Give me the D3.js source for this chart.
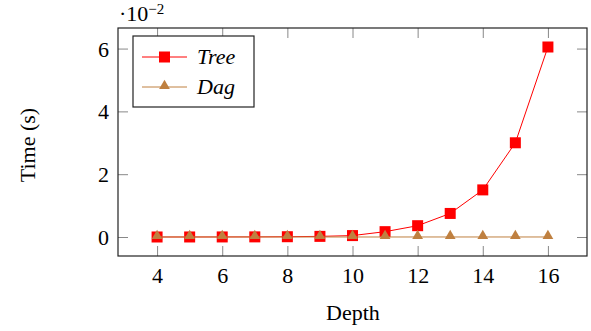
<!DOCTYPE html>
<html lang="en">
<head>
<meta charset="UTF-8">
<title>Time vs Depth</title>
<style>
  body { margin: 0; background: #fff; }
  text { font-family: "Liberation Serif", "DejaVu Serif", serif; fill: #000; }
</style>
</head>
<body>
<svg width="591" height="331"></svg>
<script src="https://d3js.org/d3.v7.min.js"></script>
<script>
// Data (time values in units of 10^-2 s)
const depths = [4, 5, 6, 7, 8, 9, 10, 11, 12, 13, 14, 15, 16];
const treeTimes = [0.0005, 0.001, 0.002, 0.004, 0.009, 0.02, 0.045, 0.17, 0.36, 0.75, 1.5, 3.0, 6.05];
const dagTimes = [0.0002, 0.0002, 0.0002, 0.0003, 0.0003, 0.0003, 0.0004, 0.0004, 0.0005, 0.0005, 0.0006, 0.0006, 0.0007];
const xTicks = [4, 6, 8, 10, 12, 14, 16];
const yTicks = [0, 2, 4, 6];

const margin = { top: 28, right: 4, bottom: 75, left: 118 };
const W = 591, H = 331;
const width = W - margin.left - margin.right;
const height = H - margin.top - margin.bottom;
const fs = 22;

const svg = d3.select("svg");
const g = svg.append("g").attr("transform", `translate(${margin.left},${margin.top})`);

// pgfplots style 10% enlargement
const x = d3.scaleLinear().domain([2.8, 17.2]).range([0, width]);
const y = d3.scaleLinear().domain([-0.605, 6.655]).range([height, 0]);

const tickLen = 10;

// Ticks on all four sides (inward)
const xAxisB = d3.axisBottom(x).tickValues(xTicks).tickSize(-tickLen).tickFormat(d3.format("d"));
const xAxisT = d3.axisTop(x).tickValues(xTicks).tickSize(-tickLen).tickFormat("");
const yAxisL = d3.axisLeft(y).tickValues(yTicks).tickSize(-tickLen).tickPadding(9).tickFormat(d3.format("d"));
const yAxisR = d3.axisRight(y).tickValues(yTicks).tickSize(-tickLen).tickFormat("");

function styleAxis(sel) {
  sel.select(".domain").remove();
  sel.selectAll(".tick line").attr("stroke", "#888").attr("stroke-width", 1);
  sel.selectAll(".tick text").style("font-size", fs + "px").attr("fill", "#000");
}

g.append("g").attr("transform", `translate(0,${height})`).call(xAxisB).call(styleAxis)
  .selectAll(".tick text").attr("y", 27).attr("dy", null);
g.append("g").call(xAxisT).call(styleAxis);
g.append("g").call(yAxisL).call(styleAxis)
  .selectAll(".tick text").attr("dy", "0.34em");
g.append("g").attr("transform", `translate(${width},0)`).call(yAxisR).call(styleAxis);

// Axis frame
g.append("rect")
  .attr("x", 0).attr("y", 0)
  .attr("width", width).attr("height", height)
  .attr("fill", "none").attr("stroke", "#222").attr("stroke-width", 1.2);

// Scale label
const sc = svg.append("text").attr("x", 119).attr("y", 21).style("font-size", fs + "px");
sc.append("tspan").text("\u00b710");
sc.append("tspan").attr("dy", -7).style("font-size", "15px").text("\u22122");

// Axis labels
svg.append("text")
  .attr("x", 353).attr("y", 320)
  .attr("text-anchor", "middle").style("font-size", fs + "px")
  .text("Depth");
svg.append("text")
  .attr("transform", `translate(35,145) rotate(-90)`)
  .attr("text-anchor", "middle").style("font-size", fs + "px")
  .text("Time (s)");

const line = d3.line().x(d => x(d[0])).y(d => y(d[1]));

const treePts = depths.map((d, i) => [d, treeTimes[i]]);
const dagPts = depths.map((d, i) => [d, dagTimes[i]]);

const red = "#ff0000", brown = "#bf8040";
const sq = 11;
const tri = d3.symbol().type(d3.symbolTriangle).size(50);

// Tree series
g.append("path").datum(treePts).attr("d", line)
  .attr("fill", "none").attr("stroke", red).attr("stroke-width", 1);
g.selectAll(".sq").data(treePts).enter().append("rect")
  .attr("class", "sq")
  .attr("x", d => x(d[0]) - sq / 2).attr("y", d => y(d[1]) - sq / 2)
  .attr("width", sq).attr("height", sq)
  .attr("fill", red);

// Dag series
g.append("path").datum(dagPts).attr("d", line)
  .attr("fill", "none").attr("stroke", brown).attr("stroke-width", 1);
g.selectAll(".tri").data(dagPts).enter().append("path")
  .attr("class", "tri")
  .attr("d", tri)
  .attr("transform", d => `translate(${x(d[0])},${y(d[1]) - 1})`)
  .attr("fill", brown);

// Legend
const lg = svg.append("g").attr("transform", "translate(133,36)");
lg.append("rect").attr("width", 121).attr("height", 71)
  .attr("fill", "#fff").attr("stroke", "#222").attr("stroke-width", 1.2);
const entries = [
  { name: "Tree", color: red, mark: "square", yy: 21 },
  { name: "Dag", color: brown, mark: "tri", yy: 51 }
];
entries.forEach(e => {
  lg.append("line").attr("x1", 9).attr("x2", 54).attr("y1", e.yy).attr("y2", e.yy)
    .attr("stroke", e.color).attr("stroke-width", 1);
  if (e.mark === "square") {
    lg.append("rect").attr("x", 31.5 - sq / 2).attr("y", e.yy - sq / 2)
      .attr("width", sq).attr("height", sq).attr("fill", e.color);
  } else {
    lg.append("path").attr("d", tri).attr("transform", `translate(31.5,${e.yy - 1})`).attr("fill", e.color);
  }
  lg.append("text").attr("x", 64).attr("y", e.yy + 7)
    .style("font-size", fs + "px").style("font-style", "italic").text(e.name);
});
</script>
</body>
</html>
